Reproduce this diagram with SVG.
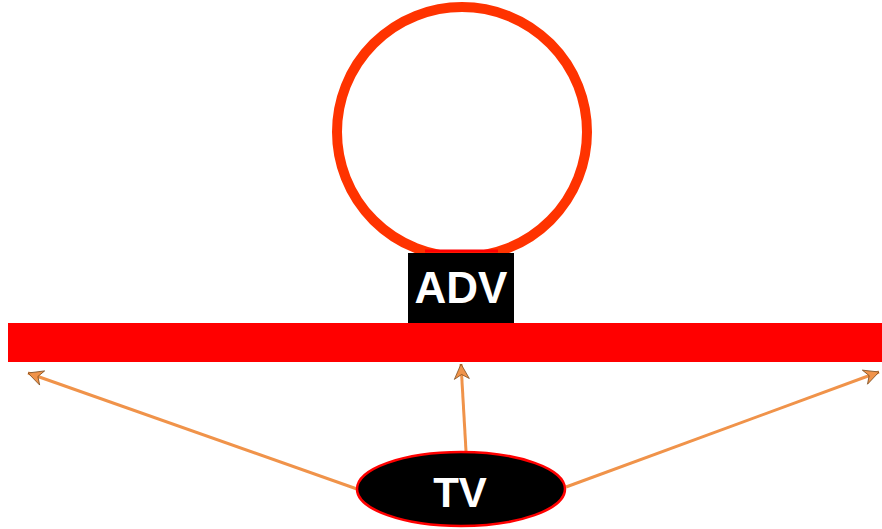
<svg xmlns="http://www.w3.org/2000/svg" width="882" height="529" viewBox="0 0 882 529">
<defs>
<style>
.lbl{font-family:"Liberation Sans",Arial,sans-serif;font-weight:bold;fill:#fff;text-anchor:middle}
.edge{fill:none;stroke:#F0934A;stroke-width:3}
</style>
<marker id="ah" viewBox="0 0 12 12" refX="11" refY="6" markerWidth="6" markerHeight="6" orient="auto" markerUnits="strokeWidth">
<path d="M1,1 L11,6 L1,11 L4,6 Z" fill="#F0934A" stroke="#7a4a1c" stroke-width="0.5"/>
</marker>
</defs>
<rect width="882" height="529" fill="#fff"/>
<g id="loop">
<circle cx="462" cy="132" r="125" fill="none" stroke="#FF3300" stroke-width="10"/>
<line x1="425" y1="251" x2="498" y2="251" stroke="#FF0000" stroke-width="3"/>
</g>
<g id="bar">
<rect x="8" y="323" width="874" height="39" fill="#FF0000"/>
</g>
<g id="adv">
<rect x="408" y="253" width="106" height="70" fill="#000"/>
<text class="lbl" x="461" y="303" font-size="44">ADV</text>
</g>
<g id="connectors">
<line class="edge" x1="466" y1="451" x2="461" y2="364" marker-end="url(#ah)"/>
<line class="edge" x1="357" y1="489" x2="28" y2="373" marker-end="url(#ah)"/>
<line class="edge" x1="566" y1="487" x2="879" y2="372" marker-end="url(#ah)"/>
</g>
<g id="tv">
<ellipse cx="461" cy="489" rx="104" ry="37" fill="#000" stroke="#FF0000" stroke-width="2.5"/>
<text class="lbl" x="460" y="507" font-size="42">TV</text>
</g>
</svg>
